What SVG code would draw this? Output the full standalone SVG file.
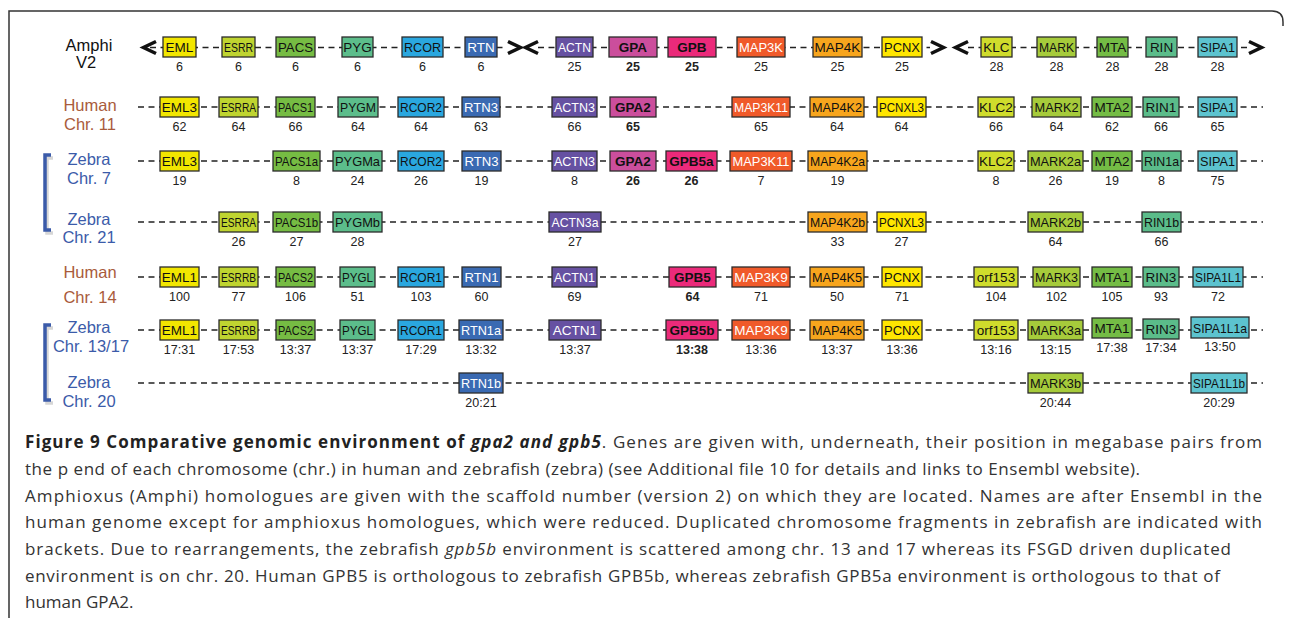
<svg xmlns="http://www.w3.org/2000/svg" width="1290" height="618" viewBox="0 0 1290 618">
<defs>
<style>
rect{stroke:#2b2b2b;stroke-width:1.3}
.eml{fill:#F2E600}.esrr{fill:#BFD430}.pacs{fill:#76BC43}.pyg{fill:#5CBD8B}.rcor{fill:#2AA7DF}
.rtn{fill:#3A6AB2}.actn{fill:#6651A2}.gpa{fill:#CB4E9C}.gpb{fill:#EB2A7A}.map3k{fill:#F05A2A}
.map4k{fill:#F7A51D}.pcnx{fill:#FFE600}.klc{fill:#CFDC2C}.mark{fill:#A6CB3B}.mta{fill:#74BC45}
.rin{fill:#5BBC8A}.sipa{fill:#5CC3CF}
text{font-family:"Liberation Sans",Arial,sans-serif}
.g{font-size:13.5px;text-anchor:middle;fill:#111}
.w{fill:#fff}
.b{font-weight:bold}
.n{font-size:12.5px;text-anchor:middle;fill:#222}
.lab{font-size:16.5px;text-anchor:middle}
.hum{fill:#A95B3B}.zeb{fill:#3B5BA9}.amp{fill:#111}
.dash{stroke:#222;stroke-width:1.6;stroke-dasharray:6 4.5;fill:none}
.chev{stroke:#111;stroke-width:3.5;fill:none;stroke-linejoin:miter}
.brk{stroke:#3B5BA9;stroke-width:3.5;fill:none}
.brks{stroke:#bbb;stroke-width:3.5;fill:none;opacity:0.6}
.cap{font-family:"Open Sans","Liberation Sans",sans-serif;font-size:17px;fill:#333}
</style>
</defs>
<rect x="0" y="0" width="1290" height="618" style="fill:#fff;stroke:none"/>
<path d="M9,618 V11 H1272 Q1283,11 1283,22 V26" style="fill:none;stroke:#333;stroke-width:1.5"/>

<g id="connectors">
<line class="dash" x1="150" y1="47.5" x2="506" y2="47.5"/>
<line class="dash" x1="538" y1="47.5" x2="930" y2="47.5"/>
<line class="dash" x1="968" y1="47.5" x2="1248" y2="47.5"/>
<polyline class="chev" points="156,41.5 143.5,47.5 156,53.5"/>
<polyline class="chev" points="508,41.5 520.5,47.5 508,53.5"/>
<polyline class="chev" points="538,41.5 525.5,47.5 538,53.5"/>
<polyline class="chev" points="931,41.5 943.5,47.5 931,53.5"/>
<polyline class="chev" points="968,41.5 955.5,47.5 968,53.5"/>
<polyline class="chev" points="1249,41.5 1261.5,47.5 1249,53.5"/>
<line class="dash" x1="138" y1="107" x2="1263" y2="107"/>
<line class="dash" x1="138" y1="161" x2="1263" y2="161"/>
<line class="dash" x1="138" y1="222" x2="1263" y2="222"/>
<line class="dash" x1="138" y1="277" x2="1263" y2="277"/>
<line class="dash" x1="138" y1="330" x2="1263" y2="330"/>
<line class="dash" x1="138" y1="383" x2="1263" y2="383"/>
</g>

<g id="labels">
<text class="lab amp" x="89" y="50.5">Amphi</text><text class="lab amp" x="86" y="67.5">V2</text>
<text class="lab hum" x="90" y="111">Human</text><text class="lab hum" x="90" y="129.5">Chr. 11</text>
<text class="lab zeb" x="89" y="164.5">Zebra</text><text class="lab zeb" x="89" y="183.5">Chr. 7</text>
<text class="lab zeb" x="89" y="224.5">Zebra</text><text class="lab zeb" x="89" y="243">Chr. 21</text>
<text class="lab hum" x="90" y="278">Human</text><text class="lab hum" x="90" y="303">Chr. 14</text>
<text class="lab zeb" x="89" y="333">Zebra</text><text class="lab zeb" x="91" y="351.5">Chr. 13/17</text>
<text class="lab zeb" x="89" y="388">Zebra</text><text class="lab zeb" x="89" y="407">Chr. 20</text>
</g>

<g id="brackets">
<path class="brks" d="M53,158 H47 V233 H53"/>
<path class="brk" d="M51,155 H45 V230 H51"/>
<path class="brks" d="M53,328 H47 V403 H53"/>
<path class="brk" d="M51,325 H45 V400 H51"/>
</g>

<!-- Amphi row -->
<g id="a-eml"><rect class="eml" x="163" y="37" width="33" height="20"/><text class="g" x="179.5" y="52">EML</text><text class="n" x="179.5" y="71">6</text></g>
<g id="a-esrr"><rect class="esrr" x="222" y="37" width="33" height="20"/><text class="g" x="238.5" y="52" textLength="29" lengthAdjust="spacingAndGlyphs">ESRR</text><text class="n" x="238.5" y="71">6</text></g>
<g id="a-pacs"><rect class="pacs" x="276" y="37" width="39" height="20"/><text class="g" x="295.5" y="52" textLength="35" lengthAdjust="spacingAndGlyphs">PACS</text><text class="n" x="295.5" y="71">6</text></g>
<g id="a-pyg"><rect class="pyg" x="342" y="37" width="31" height="20"/><text class="g" x="357.5" y="52">PYG</text><text class="n" x="357.5" y="71">6</text></g>
<g id="a-rcor"><rect class="rcor" x="402" y="37" width="41" height="20"/><text class="g" x="422.5" y="52" textLength="37" lengthAdjust="spacingAndGlyphs">RCOR</text><text class="n" x="422.5" y="71">6</text></g>
<g id="a-rtn"><rect class="rtn" x="465" y="37" width="32" height="20"/><text class="g w" x="481" y="52">RTN</text><text class="n" x="481" y="71">6</text></g>
<g id="a-actn"><rect class="actn" x="556" y="37" width="37" height="20"/><text class="g w" x="574.5" y="52" textLength="33" lengthAdjust="spacingAndGlyphs">ACTN</text><text class="n" x="574.5" y="71">25</text></g>
<g id="a-gpa"><rect class="gpa" x="609" y="37" width="48" height="20"/><text class="g b" x="633" y="52">GPA</text><text class="n b" x="633" y="71">25</text></g>
<g id="a-gpb"><rect class="gpb" x="668" y="37" width="48" height="20"/><text class="g b" x="692" y="52">GPB</text><text class="n b" x="692" y="71">25</text></g>
<g id="a-map3k"><rect class="map3k" x="737" y="37" width="48" height="20"/><text class="g w" x="761" y="52" textLength="44" lengthAdjust="spacingAndGlyphs">MAP3K</text><text class="n" x="761" y="71">25</text></g>
<g id="a-map4k"><rect class="map4k" x="813" y="37" width="49" height="20"/><text class="g" x="837.5" y="52">MAP4K</text><text class="n" x="837.5" y="71">25</text></g>
<g id="a-pcnx"><rect class="pcnx" x="882" y="37" width="40" height="20"/><text class="g" x="902" y="52" textLength="36" lengthAdjust="spacingAndGlyphs">PCNX</text><text class="n" x="902" y="71">25</text></g>
<g id="a-klc"><rect class="klc" x="981" y="37" width="31" height="20"/><text class="g" x="996.5" y="52">KLC</text><text class="n" x="996.5" y="71">28</text></g>
<g id="a-mark"><rect class="mark" x="1037" y="37" width="39" height="20"/><text class="g" x="1056.5" y="52" textLength="35" lengthAdjust="spacingAndGlyphs">MARK</text><text class="n" x="1056.5" y="71">28</text></g>
<g id="a-mta"><rect class="mta" x="1097" y="37" width="31" height="20"/><text class="g" x="1112.5" y="52">MTA</text><text class="n" x="1112.5" y="71">28</text></g>
<g id="a-rin"><rect class="rin" x="1146" y="37" width="31" height="20"/><text class="g" x="1161.5" y="52">RIN</text><text class="n" x="1161.5" y="71">28</text></g>
<g id="a-sipa1"><rect class="sipa" x="1198" y="37" width="39" height="20"/><text class="g" x="1217.5" y="52" textLength="35" lengthAdjust="spacingAndGlyphs">SIPA1</text><text class="n" x="1217.5" y="71">28</text></g>

<!-- Human chr 11 -->
<g id="h11-eml3"><rect class="eml" x="160" y="97" width="39" height="20"/><text class="g" x="179.5" y="112">EML3</text><text class="n" x="179.5" y="131">62</text></g>
<g id="h11-esrra"><rect class="esrr" x="219" y="97" width="39" height="20"/><text class="g" x="238.5" y="112" textLength="35" lengthAdjust="spacingAndGlyphs">ESRRA</text><text class="n" x="238.5" y="131">64</text></g>
<g id="h11-pacs1"><rect class="pacs" x="276" y="97" width="39" height="20"/><text class="g" x="295.5" y="112" textLength="35" lengthAdjust="spacingAndGlyphs">PACS1</text><text class="n" x="295.5" y="131">66</text></g>
<g id="h11-pygm"><rect class="pyg" x="338" y="97" width="40" height="20"/><text class="g" x="358" y="112" textLength="36" lengthAdjust="spacingAndGlyphs">PYGM</text><text class="n" x="358" y="131">64</text></g>
<g id="h11-rcor2"><rect class="rcor" x="398" y="97" width="46" height="20"/><text class="g" x="421" y="112" textLength="42" lengthAdjust="spacingAndGlyphs">RCOR2</text><text class="n" x="421" y="131">64</text></g>
<g id="h11-rtn3"><rect class="rtn" x="462" y="97" width="38" height="20"/><text class="g w" x="481" y="112" textLength="34" lengthAdjust="spacingAndGlyphs">RTN3</text><text class="n" x="481" y="131">63</text></g>
<g id="h11-actn3"><rect class="actn" x="552" y="97" width="45" height="20"/><text class="g w" x="574.5" y="112" textLength="41" lengthAdjust="spacingAndGlyphs">ACTN3</text><text class="n" x="574.5" y="131">66</text></g>
<g id="h11-gpa2"><rect class="gpa" x="610" y="97" width="46" height="20"/><text class="g b" x="633" y="112">GPA2</text><text class="n b" x="633" y="131">65</text></g>
<g id="h11-map3k11"><rect class="map3k" x="732" y="97" width="58" height="20"/><text class="g w" x="761" y="112" textLength="54" lengthAdjust="spacingAndGlyphs">MAP3K11</text><text class="n" x="761" y="131">65</text></g>
<g id="h11-map4k2"><rect class="map4k" x="810" y="97" width="54" height="20"/><text class="g" x="837" y="112" textLength="50" lengthAdjust="spacingAndGlyphs">MAP4K2</text><text class="n" x="837" y="131">64</text></g>
<g id="h11-pcnxl3"><rect class="pcnx" x="877" y="97" width="49" height="20"/><text class="g" x="901.5" y="112" textLength="45" lengthAdjust="spacingAndGlyphs">PCNXL3</text><text class="n" x="901.5" y="131">64</text></g>
<g id="h11-klc2"><rect class="klc" x="978" y="97" width="36" height="20"/><text class="g" x="996" y="112">KLC2</text><text class="n" x="996" y="131">66</text></g>
<g id="h11-mark2"><rect class="mark" x="1032" y="97" width="49" height="20"/><text class="g" x="1056.5" y="112" textLength="44" lengthAdjust="spacingAndGlyphs">MARK2</text><text class="n" x="1056.5" y="131">64</text></g>
<g id="h11-mta2"><rect class="mta" x="1092" y="97" width="40" height="20"/><text class="g" x="1112" y="112">MTA2</text><text class="n" x="1112" y="131">62</text></g>
<g id="h11-rin1"><rect class="rin" x="1143" y="97" width="36" height="20"/><text class="g" x="1161" y="112">RIN1</text><text class="n" x="1161" y="131">66</text></g>
<g id="h11-sipa1"><rect class="sipa" x="1198" y="97" width="39" height="20"/><text class="g" x="1217.5" y="112" textLength="35" lengthAdjust="spacingAndGlyphs">SIPA1</text><text class="n" x="1217.5" y="131">65</text></g>

<!-- Zebra chr 7 -->
<g id="z7-eml3"><rect class="eml" x="160" y="151" width="39" height="20"/><text class="g" x="179.5" y="166">EML3</text><text class="n" x="179.5" y="185">19</text></g>
<g id="z7-pacs1a"><rect class="pacs" x="273" y="151" width="47" height="20"/><text class="g" x="296.5" y="166" textLength="43" lengthAdjust="spacingAndGlyphs">PACS1a</text><text class="n" x="296.5" y="185">8</text></g>
<g id="z7-pygma"><rect class="pyg" x="333" y="151" width="49" height="20"/><text class="g" x="357.5" y="166" textLength="45" lengthAdjust="spacingAndGlyphs">PYGMa</text><text class="n" x="357.5" y="185">24</text></g>
<g id="z7-rcor2"><rect class="rcor" x="398" y="151" width="46" height="20"/><text class="g" x="421" y="166" textLength="42" lengthAdjust="spacingAndGlyphs">RCOR2</text><text class="n" x="421" y="185">26</text></g>
<g id="z7-rtn3"><rect class="rtn" x="462" y="151" width="39" height="20"/><text class="g w" x="481.5" y="166" textLength="34" lengthAdjust="spacingAndGlyphs">RTN3</text><text class="n" x="481.5" y="185">19</text></g>
<g id="z7-actn3"><rect class="actn" x="552" y="151" width="45" height="20"/><text class="g w" x="574.5" y="166" textLength="41" lengthAdjust="spacingAndGlyphs">ACTN3</text><text class="n" x="574.5" y="185">8</text></g>
<g id="z7-gpa2"><rect class="gpa" x="610" y="151" width="46" height="20"/><text class="g b" x="633" y="166">GPA2</text><text class="n b" x="633" y="185">26</text></g>
<g id="z7-gpb5a"><rect class="gpb" x="666" y="151" width="51" height="20"/><text class="g b" x="691.5" y="166">GPB5a</text><text class="n b" x="691.5" y="185">26</text></g>
<g id="z7-map3k11"><rect class="map3k" x="730" y="151" width="62" height="20"/><text class="g w" x="761" y="166" textLength="57" lengthAdjust="spacingAndGlyphs">MAP3K11</text><text class="n" x="761" y="185">7</text></g>
<g id="z7-map4k2a"><rect class="map4k" x="808" y="151" width="59" height="20"/><text class="g" x="837.5" y="166" textLength="55" lengthAdjust="spacingAndGlyphs">MAP4K2a</text><text class="n" x="837.5" y="185">19</text></g>
<g id="z7-klc2"><rect class="klc" x="978" y="151" width="36" height="20"/><text class="g" x="996" y="166">KLC2</text><text class="n" x="996" y="185">8</text></g>
<g id="z7-mark2a"><rect class="mark" x="1028" y="151" width="55" height="20"/><text class="g" x="1055.5" y="166" textLength="51" lengthAdjust="spacingAndGlyphs">MARK2a</text><text class="n" x="1055.5" y="185">26</text></g>
<g id="z7-mta2"><rect class="mta" x="1092" y="151" width="40" height="20"/><text class="g" x="1112" y="166">MTA2</text><text class="n" x="1112" y="185">19</text></g>
<g id="z7-rin1a"><rect class="rin" x="1142" y="151" width="39" height="20"/><text class="g" x="1161.5" y="166" textLength="35" lengthAdjust="spacingAndGlyphs">RIN1a</text><text class="n" x="1161.5" y="185">8</text></g>
<g id="z7-sipa1"><rect class="sipa" x="1198" y="151" width="39" height="20"/><text class="g" x="1217.5" y="166" textLength="35" lengthAdjust="spacingAndGlyphs">SIPA1</text><text class="n" x="1217.5" y="185">75</text></g>

<!-- Zebra chr 21 -->
<g id="z21-esrra"><rect class="esrr" x="219" y="212" width="39" height="20"/><text class="g" x="238.5" y="227" textLength="35" lengthAdjust="spacingAndGlyphs">ESRRA</text><text class="n" x="238.5" y="246">26</text></g>
<g id="z21-pacs1b"><rect class="pacs" x="273" y="212" width="47" height="20"/><text class="g" x="296.5" y="227" textLength="43" lengthAdjust="spacingAndGlyphs">PACS1b</text><text class="n" x="296.5" y="246">27</text></g>
<g id="z21-pygmb"><rect class="pyg" x="333" y="212" width="49" height="20"/><text class="g" x="357.5" y="227" textLength="45" lengthAdjust="spacingAndGlyphs">PYGMb</text><text class="n" x="357.5" y="246">28</text></g>
<g id="z21-actn3a"><rect class="actn" x="549" y="212" width="52" height="20"/><text class="g w" x="575" y="227" textLength="47" lengthAdjust="spacingAndGlyphs">ACTN3a</text><text class="n" x="575" y="246">27</text></g>
<g id="z21-map4k2b"><rect class="map4k" x="808" y="212" width="59" height="20"/><text class="g" x="837.5" y="227" textLength="55" lengthAdjust="spacingAndGlyphs">MAP4K2b</text><text class="n" x="837.5" y="246">33</text></g>
<g id="z21-pcnxl3"><rect class="pcnx" x="877" y="212" width="49" height="20"/><text class="g" x="901.5" y="227" textLength="45" lengthAdjust="spacingAndGlyphs">PCNXL3</text><text class="n" x="901.5" y="246">27</text></g>
<g id="z21-mark2b"><rect class="mark" x="1028" y="212" width="55" height="20"/><text class="g" x="1055.5" y="227" textLength="51" lengthAdjust="spacingAndGlyphs">MARK2b</text><text class="n" x="1055.5" y="246">64</text></g>
<g id="z21-rin1b"><rect class="rin" x="1142" y="212" width="39" height="20"/><text class="g" x="1161.5" y="227" textLength="35" lengthAdjust="spacingAndGlyphs">RIN1b</text><text class="n" x="1161.5" y="246">66</text></g>

<!-- Human chr 14 -->
<g id="h14-eml1"><rect class="eml" x="160" y="267" width="39" height="20"/><text class="g" x="179.5" y="282">EML1</text><text class="n" x="179.5" y="301">100</text></g>
<g id="h14-esrrb"><rect class="esrr" x="219" y="267" width="39" height="20"/><text class="g" x="238.5" y="282" textLength="35" lengthAdjust="spacingAndGlyphs">ESRRB</text><text class="n" x="238.5" y="301">77</text></g>
<g id="h14-pacs2"><rect class="pacs" x="276" y="267" width="39" height="20"/><text class="g" x="295.5" y="282" textLength="35" lengthAdjust="spacingAndGlyphs">PACS2</text><text class="n" x="295.5" y="301">106</text></g>
<g id="h14-pygl"><rect class="pyg" x="340" y="267" width="35" height="20"/><text class="g" x="357.5" y="282" textLength="31" lengthAdjust="spacingAndGlyphs">PYGL</text><text class="n" x="357.5" y="301">51</text></g>
<g id="h14-rcor1"><rect class="rcor" x="398" y="267" width="46" height="20"/><text class="g" x="421" y="282" textLength="42" lengthAdjust="spacingAndGlyphs">RCOR1</text><text class="n" x="421" y="301">103</text></g>
<g id="h14-rtn1"><rect class="rtn" x="462" y="267" width="39" height="20"/><text class="g w" x="481.5" y="282" textLength="34" lengthAdjust="spacingAndGlyphs">RTN1</text><text class="n" x="481.5" y="301">60</text></g>
<g id="h14-actn1"><rect class="actn" x="552" y="267" width="45" height="20"/><text class="g w" x="574.5" y="282" textLength="41" lengthAdjust="spacingAndGlyphs">ACTN1</text><text class="n" x="574.5" y="301">69</text></g>
<g id="h14-gpb5"><rect class="gpb" x="669" y="267" width="47" height="20"/><text class="g b" x="692.5" y="282">GPB5</text><text class="n b" x="692.5" y="301">64</text></g>
<g id="h14-map3k9"><rect class="map3k" x="732" y="267" width="58" height="20"/><text class="g w" x="761" y="282">MAP3K9</text><text class="n" x="761" y="301">71</text></g>
<g id="h14-map4k5"><rect class="map4k" x="810" y="267" width="54" height="20"/><text class="g" x="837" y="282" textLength="50" lengthAdjust="spacingAndGlyphs">MAP4K5</text><text class="n" x="837" y="301">50</text></g>
<g id="h14-pcnx"><rect class="pcnx" x="882" y="267" width="40" height="20"/><text class="g" x="902" y="282" textLength="36" lengthAdjust="spacingAndGlyphs">PCNX</text><text class="n" x="902" y="301">71</text></g>
<g id="h14-orf153"><rect class="klc" x="974" y="267" width="44" height="20"/><text class="g" x="996" y="282">orf153</text><text class="n" x="996" y="301">104</text></g>
<g id="h14-mark3"><rect class="mark" x="1033" y="267" width="47" height="20"/><text class="g" x="1056.5" y="282" textLength="43" lengthAdjust="spacingAndGlyphs">MARK3</text><text class="n" x="1056.5" y="301">102</text></g>
<g id="h14-mta1"><rect class="mta" x="1092" y="267" width="40" height="20"/><text class="g" x="1112" y="282">MTA1</text><text class="n" x="1112" y="301">105</text></g>
<g id="h14-rin3"><rect class="rin" x="1143" y="267" width="36" height="20"/><text class="g" x="1161" y="282">RIN3</text><text class="n" x="1161" y="301">93</text></g>
<g id="h14-sipa1l1"><rect class="sipa" x="1193" y="267" width="50" height="20"/><text class="g" x="1218" y="282" textLength="46" lengthAdjust="spacingAndGlyphs">SIPA1L1</text><text class="n" x="1218" y="301">72</text></g>

<!-- Zebra chr 13/17 -->
<g id="z13-eml1"><rect class="eml" x="160" y="320" width="39" height="20"/><text class="g" x="179.5" y="335">EML1</text><text class="n" x="179.5" y="354">17:31</text></g>
<g id="z13-esrrb"><rect class="esrr" x="219" y="320" width="39" height="20"/><text class="g" x="238.5" y="335" textLength="35" lengthAdjust="spacingAndGlyphs">ESRRB</text><text class="n" x="238.5" y="354">17:53</text></g>
<g id="z13-pacs2"><rect class="pacs" x="276" y="320" width="39" height="20"/><text class="g" x="295.5" y="335" textLength="35" lengthAdjust="spacingAndGlyphs">PACS2</text><text class="n" x="295.5" y="354">13:37</text></g>
<g id="z13-pygl"><rect class="pyg" x="340" y="320" width="35" height="20"/><text class="g" x="357.5" y="335" textLength="31" lengthAdjust="spacingAndGlyphs">PYGL</text><text class="n" x="357.5" y="354">13:37</text></g>
<g id="z13-rcor1"><rect class="rcor" x="398" y="320" width="46" height="20"/><text class="g" x="421" y="335" textLength="42" lengthAdjust="spacingAndGlyphs">RCOR1</text><text class="n" x="421" y="354">17:29</text></g>
<g id="z13-rtn1a"><rect class="rtn" x="459" y="320" width="44" height="20"/><text class="g w" x="481" y="335" textLength="40" lengthAdjust="spacingAndGlyphs">RTN1a</text><text class="n" x="481" y="354">13:32</text></g>
<g id="z13-actn1"><rect class="actn" x="549" y="320" width="52" height="20"/><text class="g w" x="575" y="335">ACTN1</text><text class="n" x="575" y="354">13:37</text></g>
<g id="z13-gpb5b"><rect class="gpb" x="666" y="320" width="52" height="20"/><text class="g b" x="692" y="335">GPB5b</text><text class="n b" x="692" y="354">13:38</text></g>
<g id="z13-map3k9"><rect class="map3k" x="732" y="320" width="58" height="20"/><text class="g w" x="761" y="335">MAP3K9</text><text class="n" x="761" y="354">13:36</text></g>
<g id="z13-map4k5"><rect class="map4k" x="810" y="320" width="54" height="20"/><text class="g" x="837" y="335" textLength="50" lengthAdjust="spacingAndGlyphs">MAP4K5</text><text class="n" x="837" y="354">13:37</text></g>
<g id="z13-pcnx"><rect class="pcnx" x="882" y="320" width="40" height="20"/><text class="g" x="902" y="335" textLength="36" lengthAdjust="spacingAndGlyphs">PCNX</text><text class="n" x="902" y="354">13:36</text></g>
<g id="z13-orf153"><rect class="klc" x="974" y="320" width="44" height="20"/><text class="g" x="996" y="335">orf153</text><text class="n" x="996" y="354">13:16</text></g>
<g id="z13-mark3a"><rect class="mark" x="1028" y="320" width="55" height="20"/><text class="g" x="1055.5" y="335" textLength="51" lengthAdjust="spacingAndGlyphs">MARK3a</text><text class="n" x="1055.5" y="354">13:15</text></g>
<g id="z13-mta1"><rect class="mta" x="1092" y="318" width="40" height="20"/><text class="g" x="1112" y="333">MTA1</text><text class="n" x="1112" y="352">17:38</text></g>
<g id="z13-rin3"><rect class="rin" x="1143" y="319" width="36" height="20"/><text class="g" x="1161" y="334">RIN3</text><text class="n" x="1161" y="352">17:34</text></g>
<g id="z13-sipa1l1a"><rect class="sipa" x="1191" y="317" width="58" height="21"/><text class="g" x="1220" y="332.5" textLength="54" lengthAdjust="spacingAndGlyphs">SIPA1L1a</text><text class="n" x="1220" y="351">13:50</text></g>

<!-- Zebra chr 20 -->
<g id="z20-rtn1b"><rect class="rtn" x="459" y="373" width="44" height="20"/><text class="g w" x="481" y="388" textLength="40" lengthAdjust="spacingAndGlyphs">RTN1b</text><text class="n" x="481" y="407">20:21</text></g>
<g id="z20-mark3b"><rect class="mark" x="1028" y="373" width="55" height="20"/><text class="g" x="1055.5" y="388" textLength="51" lengthAdjust="spacingAndGlyphs">MARK3b</text><text class="n" x="1055.5" y="407">20:44</text></g>
<g id="z20-sipa1l1b"><rect class="sipa" x="1191" y="373" width="56" height="20"/><text class="g" x="1219" y="388" textLength="52" lengthAdjust="spacingAndGlyphs">SIPA1L1b</text><text class="n" x="1219" y="407">20:29</text></g>

<g id="caption">
<text class="cap" x="25" y="448" textLength="1237"><tspan font-weight="bold" fill="#222">Figure 9 Comparative genomic environment of <tspan font-style="italic">gpa2 and gpb5</tspan></tspan>. Genes are given with, underneath, their position in megabase pairs from</text>
<text class="cap" x="25" y="475" textLength="1115">the p end of each chromosome (chr.) in human and zebrafish (zebra) (see Additional file 10 for details and links to Ensembl website).</text>
<text class="cap" x="25" y="502" textLength="1237">Amphioxus (Amphi) homologues are given with the scaffold number (version 2) on which they are located. Names are after Ensembl in the</text>
<text class="cap" x="25" y="528" textLength="1237">human genome except for amphioxus homologues, which were reduced. Duplicated chromosome fragments in zebrafish are indicated with</text>
<text class="cap" x="25" y="555" textLength="1206">brackets. Due to rearrangements, the zebrafish <tspan font-style="italic">gpb5b</tspan> environment is scattered among chr. 13 and 17 whereas its FSGD driven duplicated</text>
<text class="cap" x="25" y="582" textLength="1195">environment is on chr. 20. Human GPB5 is orthologous to zebrafish GPB5b, whereas zebrafish GPB5a environment is orthologous to that of</text>
<text class="cap" x="25" y="608">human GPA2.</text>
</g>
</svg>
